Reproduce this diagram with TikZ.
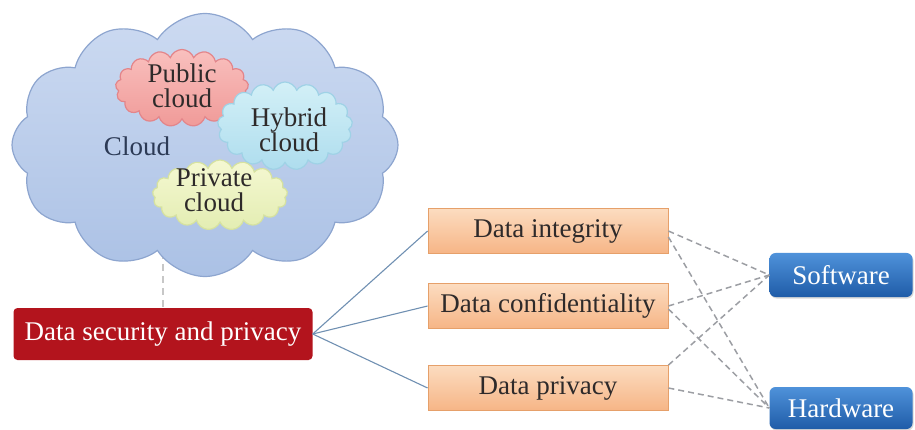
\documentclass[tikz,border=0pt]{standalone}
\usepackage{fontspec}
\setmainfont{Liberation Serif}
\usetikzlibrary{shapes.symbols,shadows}

\definecolor{cloudfillA}{HTML}{CCDAF1}
\definecolor{cloudfillB}{HTML}{ABC1E5}
\definecolor{cloudline}{HTML}{8DA5CF}
\definecolor{pubfillA}{HTML}{F9C0BE}
\definecolor{pubfillB}{HTML}{F09A98}
\definecolor{publine}{HTML}{E3858A}
\definecolor{hybfillA}{HTML}{D3F0F7}
\definecolor{hybfillB}{HTML}{AEDDEE}
\definecolor{hybline}{HTML}{9FD2E6}
\definecolor{prifillA}{HTML}{F5F8D2}
\definecolor{prifillB}{HTML}{E3EDB2}
\definecolor{priline}{HTML}{D6E2A0}
\definecolor{orangeA}{HTML}{FCDCC0}
\definecolor{orangeB}{HTML}{F6B586}
\definecolor{orangeline}{HTML}{E6A06A}
\definecolor{dspred}{HTML}{B3141D}
\definecolor{blueA}{HTML}{4F92DA}
\definecolor{blueB}{HTML}{1F5CA8}
\definecolor{solidlink}{HTML}{7090B2}
\definecolor{dashlink}{HTML}{9C9EA3}
\definecolor{textdark}{HTML}{2E2A2A}
\definecolor{textcloud}{HTML}{2C3A55}

\tikzset{
  txt/.style={font=\fontsize{27}{25}\selectfont, align=center, inner sep=0pt},
  puffy/.style={cloud, cloud ignores aspect, inner sep=0pt, line width=1.2pt},
  bigcloud/.style={puffy, cloud puffs=12, cloud puff arc=115,
    top color=cloudfillA, bottom color=cloudfillB, draw=cloudline},
  subcloud/.style={puffy, cloud puffs=17, cloud puff arc=140},
  aspectbox/.style={rectangle, draw=orangeline, line width=0.8pt,
    top color=orangeA, bottom color=orangeB,
    minimum width=240pt, minimum height=45pt, txt, text=textdark},
  layerbox/.style={rectangle, rounded corners=6pt, top color=blueA, bottom color=blueB,
    minimum width=143pt, minimum height=44pt, txt, text=white,
    drop shadow={shadow xshift=1pt, shadow yshift=-1.5pt, opacity=0.3}},
  link/.style={draw=solidlink, line width=1.1pt},
  dlink/.style={draw=dashlink, line width=1.5pt, dash pattern=on 6pt off 4pt},
}

\begin{document}
\begin{tikzpicture}[x=1pt,y=-1pt]
\useasboundingbox (0,0) rectangle (915,430);

% dashed tie from the cloud down to the main topic
\coordinate (tie) at (163,240);
\node[rectangle, rounded corners=4pt, fill=dspred, minimum width=299pt, minimum height=52pt,
      txt, text=white] (dsp) at (163,334) {Data security and privacy};
\draw[draw=black!22, line width=1.5pt, dash pattern=on 7pt off 5pt] (tie) -- (dsp.north);

% the cloud and its three kinds
\node[bigcloud, minimum width=386pt, minimum height=263pt] (cloud) at (205,145) {};
\node[subcloud, minimum width=133pt, minimum height=77pt,
      top color=pubfillA, bottom color=pubfillB, draw=publine] (pub) at (182,88) {};
\node[subcloud, minimum width=135pt, minimum height=88pt,
      top color=hybfillA, bottom color=hybfillB, draw=hybline] (hyb) at (285,126) {};
\node[subcloud, minimum width=135pt, minimum height=70pt,
      top color=prifillA, bottom color=prifillB, draw=priline] (pri) at (220,195) {};

\node[txt, text=textcloud] (cloudlbl) at (137,146) {Cloud};
\node[txt, text=textdark] (publbl) at (182,86) {Public\\cloud};
\node[txt, text=textdark] (hyblbl) at (289,130) {Hybrid\\cloud};
\node[txt, text=textdark] (prilbl) at (214,190) {Private\\cloud};

% data aspects
\node[aspectbox] (integ) at (548,231) {Data integrity};
\node[aspectbox] (conf) at (548,306) {Data confidentiality};
\node[aspectbox] (priv) at (548,388) {Data privacy};

% layers
\node[layerbox] (soft) at (841,275) {Software};
\node[layerbox, minimum height=42pt] (hard) at (841,408) {Hardware};

% solid links from the main topic
\draw[link] (dsp.east) -- (integ.west);
\draw[link] (dsp.east) -- (conf.west);
\draw[link] (dsp.east) -- (priv.west);

% dashed links to the layers
\draw[dlink] (integ.east) -- (soft.west);
\draw[dlink] ([yshift=-6pt]integ.east) -- (hard.west);
\draw[dlink] (conf.east) -- (soft.west);
\draw[dlink] ([yshift=-3pt]conf.east) -- (hard.west);
\draw[dlink] (priv.north east) -- (soft.west);
\draw[dlink] (priv.east) -- (hard.west);
\end{tikzpicture}
\end{document}
